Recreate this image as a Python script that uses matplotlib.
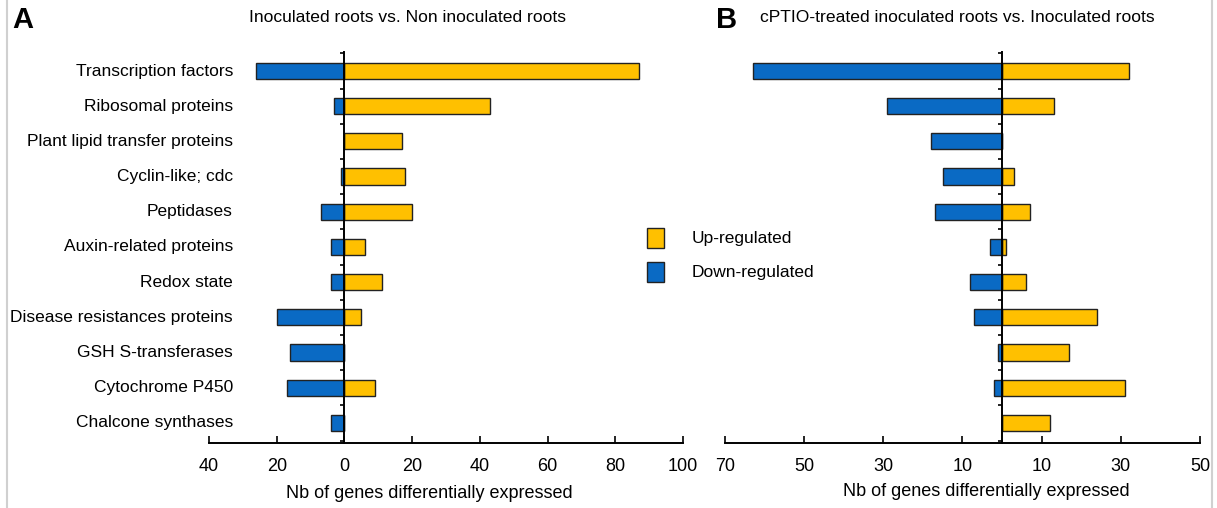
import numpy as np
import matplotlib
matplotlib.use('Agg')
import matplotlib.pyplot as plt
from matplotlib.patches import Patch
from matplotlib.lines import Line2D
from matplotlib.transforms import blended_transform_factory

plt.rcParams['font.family'] = ['Liberation Sans', 'DejaVu Sans']
font_size = 12

categories = ['Transcription factors', 'Ribosomal proteins', 'Plant lipid transfer proteins',
              'Cyclin-like; cdc', 'Peptidases', 'Auxin-related proteins', 'Redox state',
              'Disease resistances proteins', 'GSH S-transferases', 'Cytochrome P450',
              'Chalcone synthases']

# panel A: inoculated vs non inoculated
up_a = [87, 43, 17, 18, 20, 6, 11, 5, 0, 9, 0]
down_a = [26, 3, 0, 1, 7, 4, 4, 20, 16, 17, 4]

# panel B: cPTIO-treated vs inoculated
up_b = [32, 13, 0, 3, 7, 1, 6, 24, 17, 31, 12]
down_b = [63, 29, 18, 15, 17, 3, 8, 7, 1, 2, 0]

ticks_a = [-40, -20, 0, 20, 40, 60, 80, 100]
ticks_b = [-70, -50, -30, -10, 10, 30, 50]

c_up = '#FFC000'
c_down = '#0A6AC4'
c_edge = '#222222'

W, H = 1217, 508
fig = plt.figure(figsize=(W / 100, H / 100), dpi=100)


def px(x0, x1, y_top, y_bot):
    return [x0 / W, 1 - y_bot / H, (x1 - x0) / W, (y_bot - y_top) / H]


def panel(ax, up, down, xlim, ticks):
    y = np.arange(len(categories))
    ax.barh(y, up, height=0.46, color=c_up, edgecolor=c_edge, linewidth=1)
    ax.barh(y, [-d for d in down], height=0.46, color=c_down, edgecolor=c_edge, linewidth=1)
    ax.set_xlim(*xlim)
    ax.set_ylim(10.57, -0.54)
    ax.spines['top'].set_visible(False)
    ax.spines['right'].set_visible(False)
    ax.spines['left'].set_position(('data', 0))
    ax.spines['left'].set_linewidth(1.4)
    ax.spines['bottom'].set_linewidth(1.4)
    ax.set_yticks(np.arange(-0.5, 10.6, 1.0))
    ax.set_yticklabels([])
    ax.tick_params(axis='y', direction='out', length=3, width=1.2)
    ax.set_xticks(ticks)
    ax.set_xticklabels([str(abs(t)) for t in ticks], fontsize=font_size + 1)
    ax.tick_params(axis='x', direction='in', length=5, width=1.2, pad=11)


ax1 = fig.add_axes(px(209, 683, 52, 443))
panel(ax1, up_a, down_a, (-40, 100), ticks_a)
ax2 = fig.add_axes(px(725, 1200, 52, 443))
panel(ax2, up_b, down_b, (-70, 50), ticks_b)

# category labels, right aligned
tr = blended_transform_factory(fig.transFigure, ax1.transData)
for i, c in enumerate(categories):
    ax1.text(233 / W, i, c, transform=tr, ha='right', va='center', fontsize=font_size + 0.5)

fig.text(407 / W, 1 - 18 / H, 'Inoculated roots vs. Non inoculated roots',
         ha='center', va='center', fontsize=12.6)
fig.text(957 / W, 1 - 18 / H, 'cPTIO-treated inoculated roots vs. Inoculated roots',
         ha='center', va='center', fontsize=12.6)
fig.text(12 / W, 1 - 20 / H, 'A', ha='left', va='center', fontsize=21, fontweight='bold')
fig.text(716 / W, 1 - 20 / H, 'B', ha='left', va='center', fontsize=21, fontweight='bold')

fig.text(429 / W, 1 - 494 / H, 'Nb of genes differentially expressed',
         ha='center', va='center', fontsize=13)
fig.text(986 / W, 1 - 492 / H, 'Nb of genes differentially expressed',
         ha='center', va='center', fontsize=13)

handles = [Patch(facecolor=c_up, edgecolor=c_edge, label='Up-regulated'),
           Patch(facecolor=c_down, edgecolor=c_edge, label='Down-regulated')]
fig.legend(handles=handles, loc='upper left', bbox_to_anchor=(631 / W, 1 - 212 / H),
           frameon=False, handlelength=1.0, handleheight=1.4, labelspacing=0.8,
           handletextpad=1.6, fontsize=font_size + 0.5)

# faint page borders
for xb in (7, 1212):
    fig.add_artist(Line2D([xb / W, xb / W], [0, 1], color='#d0d0d0', lw=1.5))

plt.savefig('out.png', dpi=100)
